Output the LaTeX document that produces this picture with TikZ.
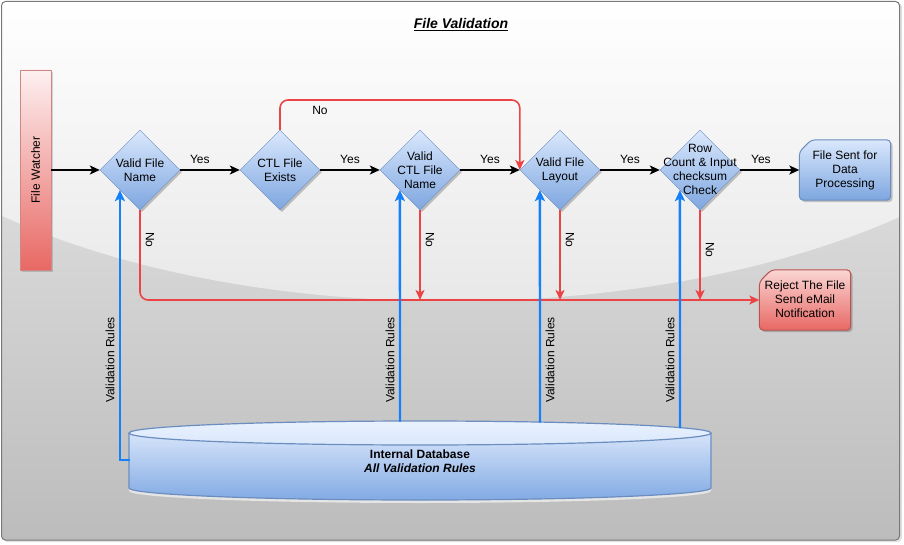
\documentclass[tikz,border=0pt]{standalone}
\usepackage{fontspec}
\setmainfont{Liberation Sans}
\usetikzlibrary{shapes.geometric,arrows.meta,shadows,calc}
\definecolor{bgline}{RGB}{120,120,120}
\definecolor{bgtop}{RGB}{236,236,236}
\definecolor{bgbot}{RGB}{188,188,188}
\definecolor{gloss}{RGB}{230,230,230}
\definecolor{bluetop}{RGB}{218,232,252}
\definecolor{bluebot}{RGB}{126,166,224}
\definecolor{blueline}{RGB}{108,142,191}
\definecolor{redtop}{RGB}{250,214,212}
\definecolor{redbot}{RGB}{232,104,100}
\definecolor{fwtop}{RGB}{253,240,240}
\definecolor{redbord}{RGB}{184,84,80}
\definecolor{noline}{RGB}{236,68,68}
\definecolor{ruleline}{RGB}{20,128,250}
\definecolor{dbtop}{RGB}{214,228,250}
\definecolor{dbbot}{RGB}{130,170,228}
\begin{document}
\begin{tikzpicture}[x=1pt,y=-1pt,font=\fontsize{12}{14}\selectfont,
  dia/.style={diamond, aspect=1, draw=blueline, top color=bluetop, bottom color=bluebot,
    minimum width=80pt, minimum height=80pt, inner sep=0pt,
    drop shadow={shadow xshift=2pt, shadow yshift=-2pt, opacity=0.22, fill=black}},
  diatext/.style={align=center, inner sep=0pt},
  cardbox/.style={rectangle, inner sep=0pt, minimum width=91pt, minimum height=60pt},
  cardshadow/.style={fill=black, opacity=0.2, rounded corners=4pt},
  bluecard/.style={draw=blueline, line width=1pt, top color=bluetop, bottom color=bluebot, rounded corners=4pt},
  redcard/.style={draw=redbord, line width=1pt, top color=redtop, bottom color=redbot, rounded corners=4pt},
  flow/.style={draw=black, line width=1.6pt, -{Stealth[length=10pt,width=9pt,inset=2.5pt]}},
  noflow/.style={draw=noline, line width=1.6pt, rounded corners=8pt, -{Stealth[length=10pt,width=9pt,inset=2.5pt]}},
  ruleflow/.style={draw=ruleline, line width=2.4pt, -{Stealth[length=11pt,width=10pt,inset=2.5pt]}},
  yes/.style={anchor=base, yshift=6pt, inner sep=0pt},
  rotlbl/.style={inner sep=0pt}
]
\useasboundingbox (0,0) rectangle (904,545);
% background
\fill[black!12, rounded corners=4pt] (3,3) rectangle (902,542);
\path[top color=bgtop, bottom color=bgbot, rounded corners=4pt] (1.5,1.5) rectangle (899.5,540);
\begin{scope}
  \clip[rounded corners=4pt] (1.5,1.5) rectangle (899.5,540);
  \path[top color=white, bottom color=gloss] (0,0) -- (904,0) -- (904,215)
     .. controls (650,330) and (250,330) .. (0,215) -- cycle;
\end{scope}
\draw[bgline, line width=1pt, rounded corners=4pt] (1.5,1.5) rectangle (899.5,540);

% title
\node[font=\bfseries\itshape\fontsize{14}{16}\selectfont] (title) at (461,25) {\underline{File Validation}};

% file watcher
\node[draw=redbord!70, top color=fwtop, bottom color=redbot, minimum width=31pt, minimum height=200pt, inner sep=0pt,
  drop shadow={shadow xshift=2pt, shadow yshift=-2pt, opacity=0.15, fill=black}] (fw) at (35.5,170) {\rotatebox{90}{File Watcher}};

% diamonds
\node[dia] (d1) at (140,170) {};
\node[dia] (d2) at (280,170) {};
\node[dia] (d3) at (420,170) {};
\node[dia] (d4) at (560,170) {};
\node[dia] (d5) at (700,170) {};
\node[diatext] (t1) at (140,170) {Valid File\\Name};
\node[diatext] (t2) at (280,170) {CTL File\\Exists};
\node[diatext] (t3) at (420,170) {Valid\\CTL File\\Name};
\node[diatext] (t4) at (560,170) {Valid File\\Layout};
\node[diatext] (t5) at (700,169) {Row\\Count \& Input\\checksum\\Check};

% end boxes
\node[cardbox] (fs) at (845,170) {};
\node[cardbox] (rj) at (805,300) {};
\path[cardshadow] ($(fs.north west)+(2,14)$) -- ($(fs.north west)+(14,2)$) -- ($(fs.north east)+(2,2)$)
   -- ($(fs.south east)+(2,2)$) -- ($(fs.south west)+(2,2)$) -- cycle;
\path[bluecard] ($(fs.north west)+(0,12)$) -- ($(fs.north west)+(12,0)$) -- (fs.north east)
   -- (fs.south east) -- (fs.south west) -- cycle;
\path[cardshadow] ($(rj.north west)+(2,14)$) -- ($(rj.north west)+(14,2)$) -- ($(rj.north east)+(2,2)$)
   -- ($(rj.south east)+(2,2)$) -- ($(rj.south west)+(2,2)$) -- cycle;
\path[redcard] ($(rj.north west)+(0,12)$) -- ($(rj.north west)+(12,0)$) -- (rj.north east)
   -- (rj.south east) -- (rj.south west) -- cycle;
\node[diatext] (fst) at (845,170) {File Sent for\\Data\\Processing};
\node[diatext] (rjt) at (805,299) {Reject The File\\Send eMail\\Notification};

% database
\fill[black!10] (129,438) -- (129,491)
  .. controls (129,497.6) and (259.3,503) .. (420,503)
  .. controls (580.7,503) and (711,497.6) .. (711,491) -- (711,438) -- cycle;
\path[top color=dbtop, bottom color=dbbot] (129,433) -- (129,488)
  .. controls (129,494.6) and (259.3,500) .. (420,500)
  .. controls (580.7,500) and (711,494.6) .. (711,488) -- (711,433) -- cycle;
\draw[blueline, line width=1.2pt] (129,433) -- (129,488)
  .. controls (129,494.6) and (259.3,500) .. (420,500)
  .. controls (580.7,500) and (711,494.6) .. (711,488) -- (711,433);
\path[top color=bluetop!60!white, bottom color=bluetop, draw=blueline, line width=1.2pt]
  (420,433) ellipse [x radius=291, y radius=12];
\node[align=center, inner sep=0pt] (db) at (420,461)
  {\textbf{Internal Database}\\\textbf{\textit{All Validation Rules}}};
\coordinate (db1) at (130,460);
\coordinate (db2) at (400,421.5);
\coordinate (db3) at (540,422.5);
\coordinate (db4) at (680,428);

% main flow
\draw[flow] (fw.east) -- (d1.west);
\draw[flow] (d1.east) -- node[yes, pos=0.33] (y1) {Yes} (d2.west);
\draw[flow] (d2.east) -- node[yes, pos=0.5] (y2) {Yes} (d3.west);
\draw[flow] (d3.east) -- node[yes, pos=0.5] (y3) {Yes} (d4.west);
\draw[flow] (d4.east) -- node[yes, pos=0.5] (y4) {Yes} (d5.west);
\draw[flow] (d5.east) -- node[yes, pos=0.35] (y5) {Yes} (fs.west);

% no paths
\coordinate (ctop) at (400,100);
\draw[noflow] (d2.north) |- (ctop) -| (d4.west);
\node[anchor=base, inner sep=0pt] (n0) at (320,115) {No};
\draw[noflow] (d1.south) |- (rj.west);
\draw[noflow] (d3.south) -- (d3.south |- rj.west);
\draw[noflow] (d4.south) -- (d4.south |- rj.west);
\draw[noflow] (d5.south) -- (d5.south |- rj.west);
\node[rotlbl, rotate=-90] (n1) at (150,240) {No};
\node[rotlbl, rotate=-90] (n3) at (430,240) {No};
\node[rotlbl, rotate=-90] (n4) at (570,240) {No};
\node[rotlbl, rotate=-90] (n5) at (710,250) {No};

% validation rules
\draw[ruleflow] (db1) -| (d1.south west);
\draw[ruleflow] (db2) -- (d3.south west);
\draw[ruleflow] (db3) -- (d4.south west);
\draw[ruleflow] (db4) -- (d5.south west);
\node[rotlbl, rotate=90] (v1) at (110,360) {Validation Rules};
\node[rotlbl, rotate=90] (v2) at (390,360) {Validation Rules};
\node[rotlbl, rotate=90] (v3) at (550,360) {Validation Rules};
\node[rotlbl, rotate=90] (v4) at (670,360) {Validation Rules};
\end{tikzpicture}
\end{document}
